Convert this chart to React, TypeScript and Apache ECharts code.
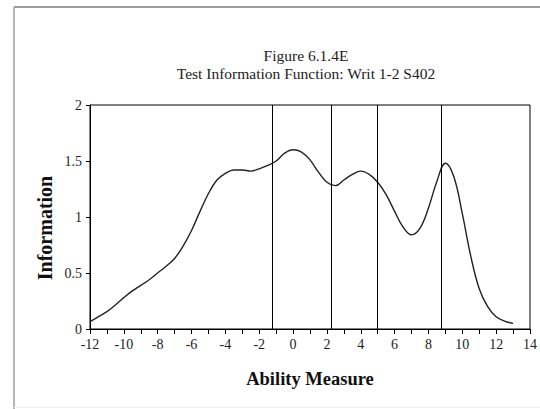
import React, { useEffect, useRef } from "react";
import * as echarts from "echarts";

const abilityValues = [
  -12, -11.5, -11, -10.5, -10, -9.5, -9, -8.5, -8, -7.5, -7, -6.5, -6, -5.5, -5, -4.5, -4, -3.5, -3, -2.5,
  -2, -1.5, -1, -0.5, 0, 0.5, 1, 1.5, 2, 2.5, 3, 3.5, 4, 4.5, 5, 5.5, 6, 6.5, 7, 7.5, 8, 8.5, 9, 9.5, 10,
  10.5, 11, 11.5, 12, 12.5, 13,
];
const informationValues = [
  0.065, 0.11, 0.155, 0.215, 0.28, 0.34, 0.39, 0.44, 0.5, 0.56, 0.63, 0.74, 0.88, 1.05, 1.21, 1.33, 1.39,
  1.42, 1.42, 1.41, 1.43, 1.46, 1.5, 1.57, 1.6, 1.58, 1.51, 1.4, 1.31, 1.28, 1.33, 1.38, 1.41, 1.38, 1.31,
  1.2, 1.05, 0.91, 0.84, 0.9, 1.08, 1.32, 1.48, 1.36, 1.03, 0.65, 0.36, 0.2, 0.11, 0.07, 0.05,
];
const cutPoints = [-1.23, 2.24, 4.98, 8.76];

const titleLine1 = "Figure 6.1.4E";
const titleLine2 = "Test Information Function: Writ 1-2 S402";
const xAxisName = "Ability Measure";
const yAxisName = "Information";

const FONT = "'Liberation Serif', 'Times New Roman', serif";

export default function App() {
  const ref = useRef<HTMLDivElement>(null);
  useEffect(() => {
    if (!ref.current) return;
    const chart = echarts.init(ref.current, undefined, { renderer: "svg" });
    chart.setOption({
      animation: false,
      backgroundColor: "#ffffff",
      title: {
        text: titleLine1 + "\n" + titleLine2,
        left: 301,
        top: 41,
        textAlign: "center",
        textStyle: {
          fontFamily: FONT,
          fontWeight: "normal",
          fontSize: 15.5,
          lineHeight: 18,
          color: "#222",
        },
      },
      graphic: [
        { type: "line", shape: { x1: 14, y1: 7, x2: 540, y2: 7 }, style: { stroke: "#9a9a9a", lineWidth: 2 } },
        { type: "line", shape: { x1: 14, y1: 7, x2: 14, y2: 409 }, style: { stroke: "#b5b5b5", lineWidth: 2 } },
        { type: "line", shape: { x1: 14, y1: 407.5, x2: 540, y2: 407.5 }, style: { stroke: "#eeeeee", lineWidth: 1 } },
        {
          type: "text",
          x: 45,
          y: 228,
          rotation: Math.PI / 2,
          style: {
            text: yAxisName,
            fontFamily: FONT,
            fontWeight: "bold",
            fontSize: 20,
            fill: "#111",
            align: "center",
            verticalAlign: "middle",
          },
        },
      ],
      grid: {
        left: 90,
        right: 10,
        top: 105,
        bottom: 80,
        show: true,
        borderColor: "#000",
        borderWidth: 1,
      },
      xAxis: {
        type: "value",
        min: -12,
        max: 14,
        interval: 1,
        name: xAxisName,
        nameLocation: "middle",
        nameGap: 40,
        nameTextStyle: { fontFamily: FONT, fontWeight: "bold", fontSize: 18.5, color: "#111" },
        axisLine: { onZero: false, lineStyle: { color: "#000", width: 1 } },
        axisTick: { show: true, inside: false, length: 5, lineStyle: { color: "#000" } },
        axisLabel: {
          fontFamily: FONT,
          fontSize: 14,
          color: "#222",
          margin: 8,
          formatter: (v: number) => (Math.round(v) % 2 === 0 ? String(v) : ""),
        },
        splitLine: { show: false },
      },
      yAxis: {
        type: "value",
        min: 0,
        max: 2,
        interval: 0.5,
        axisLine: { show: true, onZero: false, lineStyle: { color: "#000", width: 1 } },
        axisTick: { show: true, inside: false, length: 4, lineStyle: { color: "#000" } },
        axisLabel: { fontFamily: FONT, fontSize: 14, color: "#222", margin: 8 },
        splitLine: { show: false },
      },
      series: [
        {
          type: "line",
          data: abilityValues.map((x, i) => [x, informationValues[i]]),
          smooth: 0.4,
          showSymbol: false,
          lineStyle: { color: "#222", width: 1.4 },
          markLine: {
            silent: true,
            symbol: ["none", "none"],
            label: { show: false },
            lineStyle: { color: "#000", type: "solid", width: 1 },
            data: cutPoints.map((c) => ({ xAxis: c })),
          },
        },
      ],
    });
    return () => chart.dispose();
  }, []);
  return <div ref={ref} style={{ position: "fixed", left: 0, top: 0, width: 540, height: 409 }} />;
}
